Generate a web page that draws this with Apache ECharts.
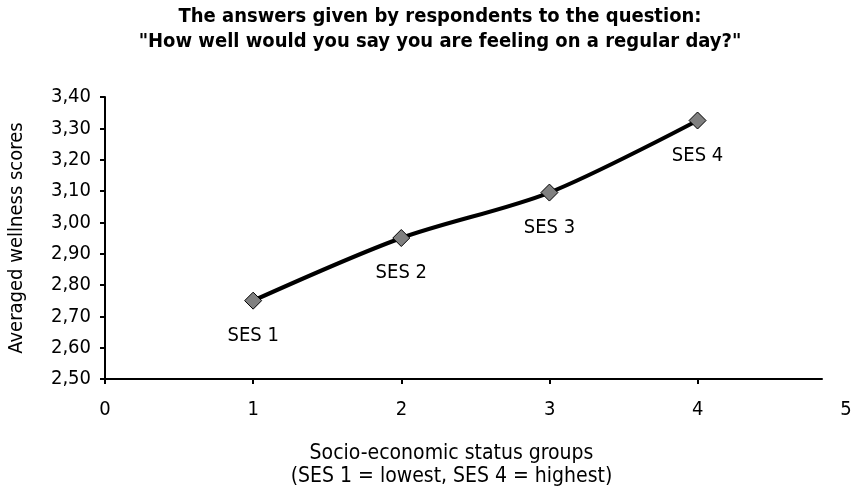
<!DOCTYPE html>
<html>
<head>
<meta charset="utf-8">
<script src="https://cdn.jsdelivr.net/npm/echarts@6/dist/echarts.min.js"></script>
<style>
  html, body { margin: 0; padding: 0; background: #fff; }
  #chart { width: 856px; height: 489px; }
</style>
</head>
<body>
<div id="chart"></div>
<script>
  // data
  const sesGroups = [1, 2, 3, 4];
  const sesLabels = ['SES 1', 'SES 2', 'SES 3', 'SES 4'];
  const wellness = [2.75, 2.95, 3.095, 3.325];
  const xTicks = [0, 1, 2, 3, 4];   // the axis line stops short of 5 in the original

  const font = '"DejaVu Sans Condensed", "DejaVu Sans", sans-serif';
  const chart = echarts.init(document.getElementById('chart'));

  chart.setOption({
    animation: false,
    title: {
      text: 'The answers given by respondents to the question:\n"How well would you say you are feeling on a regular day?"',
      left: 440,
      top: 0,
      textAlign: 'center',
      padding: [4, 0, 0, 0],
      textStyle: { fontFamily: font, fontSize: 20, fontWeight: 'bold', color: '#000', lineHeight: 25 }
    },
    grid: [
      { left: 105, right: 34, top: 97, bottom: 110, outerBoundsMode: 'none' },
      { left: 105, right: 10, top: 97, bottom: 110, outerBoundsMode: 'none' }
    ],
    xAxis: [{
      gridIndex: 0,
      type: 'value',
      min: 0, max: 4.84,
      name: 'Socio-economic status groups\n(SES 1 = lowest, SES 4 = highest)',
      nameLocation: 'middle',
      nameGap: 63,
      nameTextStyle: { fontFamily: font, fontSize: 21, color: '#000', lineHeight: 23, padding: [0, 24, 0, 0] },
      axisLine: { lineStyle: { color: '#000', width: 2 } },
      axisTick: { customValues: xTicks, lineStyle: { color: '#000', width: 2 }, length: 5 },
      axisLabel: { show: false },
      splitLine: { show: false }
    }, {
      // label-only axis running to 5
      gridIndex: 1,
      type: 'value',
      min: 0, max: 5, interval: 1,
      axisLine: { show: false },
      axisTick: { show: false },
      axisLabel: { fontFamily: font, fontSize: 20, color: '#000', margin: 21 },
      splitLine: { show: false }
    }],
    yAxis: [{
      gridIndex: 0,
      type: 'value',
      min: 2.5, max: 3.4, interval: 0.1,
      name: 'Averaged wellness scores',
      nameLocation: 'middle',
      nameGap: 78,
      nameTextStyle: { fontFamily: font, fontSize: 20, color: '#000' },
      axisLine: { show: true, lineStyle: { color: '#000', width: 2 } },
      axisTick: { show: true, lineStyle: { color: '#000', width: 2 }, length: 5 },
      axisLabel: {
        fontFamily: font, fontSize: 20, color: '#000', margin: 14,
        formatter: v => v.toFixed(2).replace('.', ',')
      },
      splitLine: { show: false }
    }, {
      gridIndex: 1,
      type: 'value',
      show: false
    }],
    series: [{
      type: 'line',
      xAxisIndex: 0,
      yAxisIndex: 0,
      data: sesGroups.map((x, i) => [x, wellness[i]]),
      smooth: 0.3,
      lineStyle: { color: '#000', width: 4 },
      symbol: 'diamond',
      symbolSize: 17,
      itemStyle: { color: '#808080', borderColor: '#000', borderWidth: 1 },
      label: {
        show: true,
        position: 'bottom',
        distance: 16,
        fontFamily: font, fontSize: 20, color: '#000',
        formatter: p => sesLabels[p.dataIndex]
      }
    }]
  });
</script>
</body>
</html>
